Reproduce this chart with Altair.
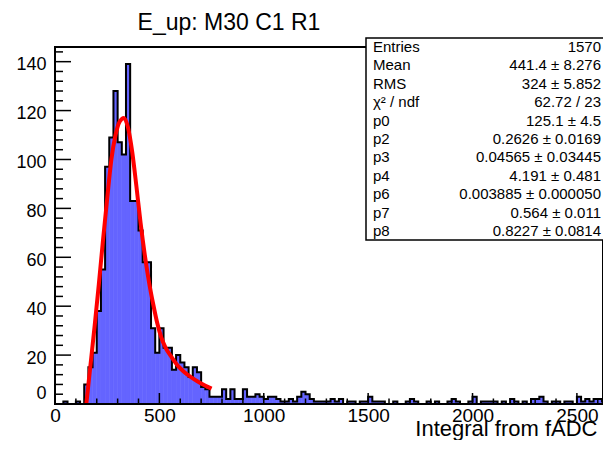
import altair as alt
import pandas as pd
import numpy as np

# ---------------- data ----------------
bin_width = 20
x_max = 2625
counts = [0, 0, 1, 0, 0, 1, 0,
          8, 15, 21, 38, 55, 97, 109, 128, 107, 102, 139, 83, 83, 71, 58, 58,
          31, 21, 31, 23, 23, 14, 20, 17, 15, 11, 15, 13, 7, 6, 3, 3, 3, 6, 2, 6, 2, 2, 6, 3, 3,
          4, 3, 2, 3, 3, 2, 1, 1, 2, 1, 3, 5, 4, 2, 1, 1, 1, 1, 2, 1,
          2, 0, 1, 1, 0, 1, 1, 3, 1, 1, 1, 0, 0, 1, 0, 0, 1, 2, 1, 0,
          0, 1, 0, 1, 0, 0, 1, 2, 1, 0, 0, 1, 3, 0, 1, 1, 1, 1, 0, 1,
          0, 2, 1, 0, 1, 0, 2, 2, 3, 1, 0, 1, 1, 0, 1, 1, 0, 3, 1, 2,
          1, 2, 2, 1]
bin_start = [i * bin_width for i in range(len(counts))]

fit_x = [150, 170, 190, 210, 230, 250, 270, 290, 310, 330, 350, 370, 390, 410,
         430, 450, 470, 490, 510, 530, 560, 590, 620, 660, 700, 750]
fit_y = [0, 16, 32, 49, 67, 84, 100, 110, 115.5, 117, 113, 103, 89, 74,
         61, 50, 41, 33, 27, 23, 19, 15.5, 13, 10.5, 8.4, 6.3]

x_label_values = [0, 500, 1000, 1500, 2000, 2500]
y_label_values = [0, 20, 40, 60, 80, 100, 120, 140]

title_text = "E_up: M30 C1 R1"
x_title = "Integral from fADC"

stat_names = ["Entries", "Mean", "RMS", "\u03c7\u00b2 / ndf", "p0", "p2", "p3",
              "p4", "p6", "p7", "p8"]
stat_values = ["1570", "441.4 \u00b1  8.276", "324 \u00b1  5.852", "62.72 / 23",
               "125.1 \u00b1 4.5", "0.2626 \u00b1 0.0169", "0.04565 \u00b1 0.03445",
               "4.191 \u00b1 0.481", "0.003885 \u00b1 0.000050", "0.564 \u00b1 0.011",
               "0.8227 \u00b1 0.0814"]

# ---------------- layout ----------------
W, H = 548, 357
FONT = "Liberation Sans"
FILL = "#6464ff"

hist = pd.DataFrame({"x0": bin_start,
                     "x1": [b + bin_width for b in bin_start],
                     "n": counts})
step = pd.DataFrame({"x": bin_start + [bin_start[-1] + bin_width],
                     "n": counts + [counts[-1]]})
fit = pd.DataFrame({"x": fit_x, "y": fit_y})

xs = alt.Scale(domain=[0, x_max], nice=False, zero=False)
ys = alt.Scale(domain=[0, 146], nice=False)

x_axis = alt.Axis(values=x_label_values, format="d", ticks=False, domain=False,
                  grid=False, labelFont=FONT, labelFontSize=19, labelColor="black",
                  labelPadding=2, labelFlush=False, labelOverlap=False,
                  title=x_title, titleFont=FONT, titleFontSize=22,
                  titleFontWeight="normal", titleColor="black",
                  titleAlign="right", titleX=542, titleY=31,
                  titleBaseline="alphabetic")
y_axis = alt.Axis(values=y_label_values, format="d", ticks=False, domain=False,
                  grid=False, labelFont=FONT, labelFontSize=18, labelColor="black",
                  labelPadding=9, labelFlush=False, labelOverlap=False,
                  labelOffset={"condition": {"test": "datum.value == 0", "value": -11},
                               "value": 3},
                  title=None)

bars = alt.Chart(hist).mark_rect(color=FILL, stroke=FILL, strokeWidth=0.6,
                                 clip=True).encode(
    x=alt.X("x0:Q", scale=xs, axis=x_axis),
    x2="x1:Q",
    y=alt.Y("n:Q", scale=ys, axis=y_axis),
    y2=alt.datum(0),
)

outline = alt.Chart(step).mark_line(interpolate="step-after", color="black",
                                    strokeWidth=2, clip=True).encode(
    x=alt.X("x:Q", scale=xs), y=alt.Y("n:Q", scale=ys))

fitline = alt.Chart(fit).mark_line(color="#ff0000", strokeWidth=4,
                                   interpolate="monotone").encode(
    x=alt.X("x:Q", scale=xs), y=alt.Y("y:Q", scale=ys))

# ticks (inside the frame, ROOT style)
x_major = pd.DataFrame({"v": x_label_values})
x_minor = pd.DataFrame({"v": [v for v in range(0, x_max, 100) if v % 500 != 0]})
y_major = pd.DataFrame({"v": y_label_values})
y_minor = pd.DataFrame({"v": [v for v in range(0, 146, 4) if v % 20 != 0]})

def xt(df, length):
    return alt.Chart(df).mark_rule(color="black", strokeWidth=1.5).encode(
        x=alt.X("v:Q", scale=xs), y=alt.value(H), y2=alt.value(H - length))

def yt(df, length):
    return alt.Chart(df).mark_rule(color="black", strokeWidth=1.5).encode(
        y=alt.Y("v:Q", scale=ys), x=alt.value(0), x2=alt.value(length))

frame = alt.Chart(pd.DataFrame({"a": [0]})).mark_rect(
    fillOpacity=0, stroke="black", strokeWidth=2).encode(
    x=alt.value(0), x2=alt.value(W), y=alt.value(0), y2=alt.value(H))

box = alt.Chart(pd.DataFrame({"a": [0]})).mark_rect(
    fill="white", stroke="black", strokeWidth=1.5).encode(
    x=alt.value(311), x2=alt.value(600), y=alt.value(-9), y2=alt.value(193))

title = alt.Chart(pd.DataFrame({"t": [title_text]})).mark_text(
    align="center", baseline="alphabetic", font=FONT, fontSize=23,
    color="black").encode(x=alt.value(174), y=alt.value(-17.5), text="t:N")

stat_layers = []
for i, (nm, val) in enumerate(zip(stat_names, stat_values)):
    d = pd.DataFrame({"name": [nm], "val": [val]})
    ypix = i * 18.4
    stat_layers.append(alt.Chart(d).mark_text(
        align="left", baseline="middle", font=FONT, fontSize=15, color="black").encode(
        x=alt.value(318), y=alt.value(ypix), text="name:N"))
    stat_layers.append(alt.Chart(d).mark_text(
        align="right", baseline="middle", font=FONT, fontSize=15, color="black").encode(
        x=alt.value(546), y=alt.value(ypix), text="val:N"))

chart = alt.layer(
    bars, outline, fitline,
    xt(x_major, 11), xt(x_minor, 5.5), yt(y_major, 16), yt(y_minor, 8),
    frame, box, title, *stat_layers
).properties(
    width=W, height=H,
    autosize=alt.AutoSizeParams(type="none"),
    padding={"left": 47, "top": 39, "right": 0, "bottom": 36},
).configure_view(stroke=None).configure(background="white")

chart.save("out.html", embed_options={"renderer": "svg", "actions": False})
